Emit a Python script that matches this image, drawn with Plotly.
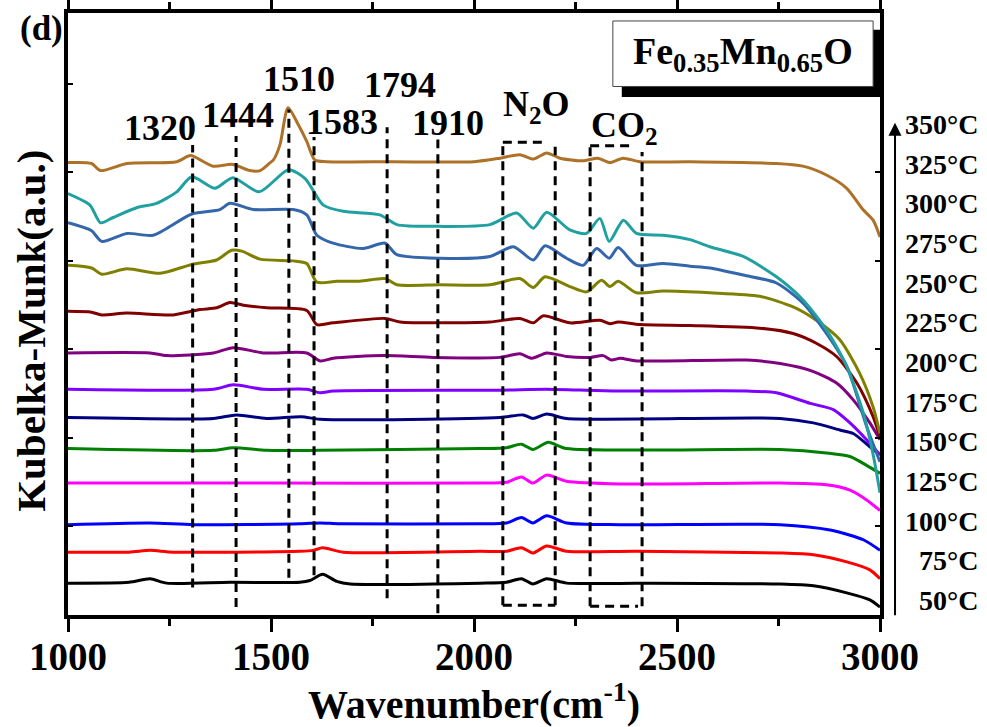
import plotly.graph_objects as go

# ---------------- data ----------------
wn_50 = [1000, 1150, 1202, 1243, 1400, 1571, 1596, 1627, 1662, 1695, 1900, 2015, 2080, 2117, 2145, 2179, 2228, 2400, 2754, 2836, 2918, 2975, 3000]
km_50 = [0.36, 0.37, 0.41, 0.36, 0.37, 0.37, 0.39, 0.46, 0.38, 0.35, 0.35, 0.36, 0.37, 0.41, 0.35, 0.41, 0.36, 0.36, 0.35, 0.33, 0.25, 0.17, 0.09]

wn_75 = [1000, 1150, 1202, 1259, 1571, 1604, 1627, 1678, 2015, 2080, 2117, 2145, 2179, 2228, 2400, 2754, 2836, 2918, 2975, 3000]
km_75 = [0.71, 0.71, 0.73, 0.71, 0.72, 0.73, 0.76, 0.71, 0.72, 0.72, 0.76, 0.70, 0.78, 0.72, 0.72, 0.70, 0.68, 0.60, 0.51, 0.41]

wn_100 = [1000, 1202, 1309, 1571, 1621, 1670, 2015, 2080, 2117, 2145, 2179, 2228, 2360, 2754, 2877, 2959, 3000]
km_100 = [1.02, 1.04, 1.02, 1.03, 1.04, 1.03, 1.03, 1.04, 1.10, 1.04, 1.12, 1.04, 1.02, 1.02, 0.96, 0.85, 0.73]

wn_125 = [1000, 1500, 2015, 2080, 2117, 2145, 2179, 2228, 2360, 2754, 2868, 2926, 2967, 3000]
km_125 = [1.49, 1.49, 1.49, 1.50, 1.56, 1.49, 1.58, 1.51, 1.48, 1.49, 1.47, 1.41, 1.30, 1.18]

wn_150 = [1000, 1358, 1407, 1489, 1621, 2015, 2080, 2117, 2145, 2183, 2228, 2754, 2868, 2926, 2967, 3000]
km_150 = [1.88, 1.86, 1.89, 1.86, 1.86, 1.88, 1.89, 1.93, 1.87, 1.95, 1.88, 1.87, 1.83, 1.79, 1.69, 1.60]

wn_175 = [1000, 1358, 1415, 1489, 1575, 1621, 2064, 2121, 2145, 2179, 2228, 2754, 2836, 2901, 2934, 2975, 3000]
km_175 = [2.23, 2.22, 2.26, 2.22, 2.24, 2.21, 2.23, 2.26, 2.22, 2.27, 2.22, 2.22, 2.17, 2.09, 2.05, 1.90, 1.81]

wn_200 = [1000, 1358, 1407, 1481, 1588, 1621, 1653, 2064, 2179, 2343, 2672, 2745, 2828, 2885, 2926, 2967, 3000]
km_200 = [2.55, 2.55, 2.60, 2.55, 2.55, 2.51, 2.53, 2.54, 2.55, 2.53, 2.53, 2.51, 2.39, 2.32, 2.17, 1.98, 1.81]

wn_225 = [1000, 1202, 1243, 1358, 1407, 1481, 1588, 1621, 1653, 1777, 1900, 2064, 2113, 2143, 2179, 2228, 2286, 2318, 2339, 2360, 2401, 2672, 2754, 2836, 2893, 2934, 2975, 3000]
km_225 = [2.96, 2.96, 2.93, 2.96, 3.02, 2.96, 2.96, 2.87, 2.90, 2.93, 2.91, 2.91, 2.95, 2.90, 2.96, 2.92, 2.91, 2.93, 2.88, 2.90, 2.87, 2.88, 2.84, 2.75, 2.62, 2.43, 2.17, 1.98]

wn_250 = [1000, 1058, 1083, 1145, 1259, 1325, 1366, 1399, 1432, 1489, 1588, 1613, 1653, 1781, 1818, 2039, 2113, 2146, 2171, 2236, 2310, 2335, 2355, 2409, 2532, 2704, 2786, 2843, 2893, 2943, 2983, 3000]
km_250 = [3.43, 3.42, 3.39, 3.41, 3.39, 3.45, 3.47, 3.53, 3.50, 3.47, 3.44, 3.28, 3.30, 3.35, 3.31, 3.31, 3.35, 3.30, 3.38, 3.30, 3.33, 3.29, 3.31, 3.28, 3.27, 3.24, 3.18, 3.07, 2.92, 2.62, 2.24, 2.01]

wn_275 = [1000, 1058, 1083, 1145, 1227, 1305, 1366, 1403, 1428, 1473, 1555, 1588, 1613, 1662, 1719, 1781, 1810, 1916, 2039, 2113, 2146, 2175, 2236, 2277, 2314, 2335, 2355, 2400, 2466, 2581, 2704, 2786, 2843, 2901, 2950, 2983, 3000]
km_275 = [3.95, 3.92, 3.85, 3.91, 3.86, 3.96, 4.01, 4.12, 4.11, 4.02, 4.00, 3.97, 3.76, 3.77, 3.77, 3.80, 3.73, 3.73, 3.73, 3.80, 3.70, 3.82, 3.71, 3.65, 3.78, 3.71, 3.77, 3.64, 3.66, 3.64, 3.60, 3.48, 3.33, 3.11, 2.73, 2.35, 2.05]

wn_300 = [1000, 1058, 1083, 1145, 1210, 1305, 1374, 1399, 1456, 1555, 1588, 1613, 1653, 1727, 1781, 1810, 1916, 2039, 2097, 2146, 2175, 2228, 2269, 2302, 2333, 2355, 2400, 2466, 2532, 2581, 2663, 2745, 2811, 2868, 2918, 2967, 3000]
km_300 = [4.43, 4.34, 4.22, 4.31, 4.29, 4.53, 4.58, 4.65, 4.58, 4.58, 4.52, 4.29, 4.20, 4.14, 4.20, 4.07, 4.03, 4.05, 4.16, 4.01, 4.17, 4.03, 3.95, 4.14, 4.03, 4.15, 3.95, 3.97, 3.94, 3.92, 3.84, 3.75, 3.52, 3.18, 2.81, 2.13, 1.73]

wn_325 = [1000, 1054, 1080, 1111, 1169, 1218, 1268, 1305, 1362, 1406, 1471, 1543, 1584, 1629, 1678, 1768, 1810, 1916, 2039, 2105, 2146, 2179, 2236, 2277, 2310, 2333, 2368, 2400, 2466, 2532, 2581, 2663, 2745, 2810, 2868, 2918, 2959, 2984, 3000]
km_325 = [4.76, 4.63, 4.43, 4.49, 4.60, 4.65, 4.78, 4.95, 4.82, 4.94, 4.78, 5.03, 4.93, 4.63, 4.56, 4.52, 4.41, 4.39, 4.41, 4.54, 4.37, 4.55, 4.35, 4.31, 4.48, 4.22, 4.46, 4.31, 4.29, 4.24, 4.16, 4.05, 3.82, 3.56, 3.22, 2.81, 2.28, 1.79, 1.38]

wn_350 = [1000, 1058, 1080, 1145, 1268, 1302, 1357, 1406, 1448, 1473, 1498, 1506, 1522, 1542, 1567, 1588, 1608, 1637, 1800, 2000, 2064, 2113, 2146, 2179, 2212, 2268, 2305, 2335, 2367, 2409, 2532, 2745, 2810, 2868, 2918, 2958, 2983, 3000]
km_350 = [5.11, 5.10, 5.02, 5.10, 5.12, 5.19, 5.07, 5.09, 5.02, 5.02, 5.11, 5.14, 5.31, 5.73, 5.54, 5.35, 5.14, 5.12, 5.12, 5.12, 5.16, 5.20, 5.15, 5.22, 5.16, 5.13, 5.16, 5.11, 5.16, 5.12, 5.12, 5.10, 5.07, 4.97, 4.82, 4.58, 4.46, 4.27]

temps = ["50°C", "75°C", "100°C", "125°C", "150°C", "175°C", "200°C",
         "225°C", "250°C", "275°C", "300°C", "325°C", "350°C"]

band_labels = ["1320", "1444", "1510", "1583", "1794", "1910"]
band_label_x = [1227, 1419, 1569, 1675, 1818, 1936]
band_label_y = [5.50, 5.65, 6.05, 5.57, 5.99, 5.56]
band_line_x = [1307, 1414, 1544, 1606, 1786, 1911]
band_line_top = [5.31, 5.41, 5.71, 5.40, 5.51, 5.37]
band_line_bottom = [0.31, 0.09, 0.42, 0.45, 0.19, 0.02]

# ---------------- styles ----------------
series = [
    (wn_50, km_50, "#000000"),
    (wn_75, km_75, "#FF0000"),
    (wn_100, km_100, "#0000FF"),
    (wn_125, km_125, "#FF00FF"),
    (wn_150, km_150, "#008000"),
    (wn_175, km_175, "#000080"),
    (wn_200, km_200, "#8000FF"),
    (wn_225, km_225, "#800080"),
    (wn_250, km_250, "#800000"),
    (wn_275, km_275, "#808000"),
    (wn_300, km_300, "#3366AA"),
    (wn_325, km_325, "#20A0A0"),
    (wn_350, km_350, "#AD7127"),
]

SERIF = "Liberation Serif"
fig = go.Figure()
for (x, y, c), t in zip(series, temps):
    fig.add_trace(go.Scatter(x=x, y=y, mode="lines", name=t,
                             line=dict(color=c, width=3, shape="spline", smoothing=0.7),
                             hoverinfo="skip"))

dash = "9px,6px"
shapes = []
for lx, t0, b0 in zip(band_line_x, band_line_top, band_line_bottom):
    shapes.append(dict(type="line", xref="x", yref="y", x0=lx, x1=lx, y0=b0, y1=t0,
                       line=dict(color="black", width=3, dash=dash)))

# N2O and CO2 dashed boxes
box_segments = [
    (2071, 2071, 0.11, 5.34), (2071, 2175, 5.34, 5.34), (2200, 2200, 0.11, 5.29), (2071, 2200, 0.11, 0.11),
    (2286, 2286, 0.10, 5.30), (2286, 2389, 5.30, 5.30), (2414, 2414, 0.10, 5.23), (2286, 2404, 0.10, 0.10),
]
for x0, x1, y0, y1 in box_segments:
    shapes.append(dict(type="line", xref="x", yref="y", x0=x0, x1=x1, y0=y0, y1=y1,
                       line=dict(color="black", width=3, dash=dash)))

# title box with shadow
shapes.append(dict(type="rect", xref="x", yref="y", x0=2364, x1=3000, y0=5.85, y1=6.61,
                   fillcolor="black", line=dict(width=0), layer="above"))
shapes.append(dict(type="rect", xref="x", yref="y", x0=2342, x1=2983, y0=5.97, y1=6.71,
                   fillcolor="white", line=dict(color="#444444", width=1), layer="above"))

bold = lambda s: dict(family=SERIF, size=s, color="black", weight="bold")
annotations = []
for txt, ax_, ay_ in zip(band_labels, band_label_x, band_label_y):
    annotations.append(dict(x=ax_, y=ay_, xref="x", yref="y", text=txt, showarrow=False,
                            xanchor="center", yanchor="middle", font=bold(36)))
annotations.append(dict(x=2153, y=5.74, xref="x", yref="y", text="N<sub>2</sub>O", showarrow=False,
                        xanchor="center", yanchor="middle", font=bold(36)))
annotations.append(dict(x=2370, y=5.51, xref="x", yref="y", text="CO<sub>2</sub>", showarrow=False,
                        xanchor="center", yanchor="middle", font=bold(36)))
annotations.append(dict(x=2663, y=6.34, xref="x", yref="y", text="Fe<sub>0.35</sub>Mn<sub>0.65</sub>O",
                        showarrow=False, xanchor="center", yanchor="middle", font=bold(38)))
annotations.append(dict(x=-0.033, y=0.975, xref="paper", yref="paper", text="(d)", showarrow=False,
                        xanchor="center", yanchor="middle", font=bold(35)))
# y-axis title (placed as rotated text, slightly below the plot centre as in the original)
annotations.append(dict(x=-0.0456, y=0.472, xref="paper", yref="paper", text="Kubelka-Munk(a.u.)",
                        textangle=-90, showarrow=False, xanchor="center", yanchor="middle",
                        font=bold(41)))

# temperature labels on the right (top = highest temperature)
for i, t in enumerate(reversed(temps)):
    annotations.append(dict(x=1.123, y=5.54 - i * 0.448, xref="paper", yref="y", text=t,
                            xanchor="right", yanchor="middle", showarrow=False, font=bold(28)))
# upward arrow
annotations.append(dict(x=1.0185, y=5.56, xref="paper", yref="y", ax=0, ay=494, text="",
                        showarrow=True, arrowhead=2, arrowsize=1.3, arrowwidth=2, arrowcolor="black"))

fig.update_layout(
    width=987, height=727,
    margin=dict(l=68, r=107, t=13, b=112),
    paper_bgcolor="white", plot_bgcolor="white",
    showlegend=False,
    shapes=shapes, annotations=annotations,
    font=dict(family=SERIF, color="black"),
)
fig.update_xaxes(range=[1000, 3000], dtick=500, tick0=1000,
                 showline=True, linecolor="black", linewidth=3.5, mirror="ticks",
                 ticks="outside", ticklen=13, tickwidth=3, tickcolor="black",
                 minor=dict(dtick=250, ticklen=7, tickwidth=3, ticks="outside", tickcolor="black"),
                 showgrid=False, zeroline=False, ticklabelstandoff=-9,
                 tickfont=bold(39),
                 title=dict(text="Wavenumber(cm<sup>-1</sup>)", standoff=12, font=bold(40)),
                 automargin=False)
fig.update_yaxes(range=[0, 6.8], dtick=1, tick0=0,
                 showline=True, linecolor="black", linewidth=3.5, mirror="ticks",
                 ticks="inside", ticklen=5, tickwidth=2, tickcolor="black",
                 showticklabels=False, showgrid=False, zeroline=False,
                 automargin=False)

fig.write_html("out.html", config={"displayModeBar": False},
               post_script="document.body.style.margin='0px';document.body.style.padding='0px';")
